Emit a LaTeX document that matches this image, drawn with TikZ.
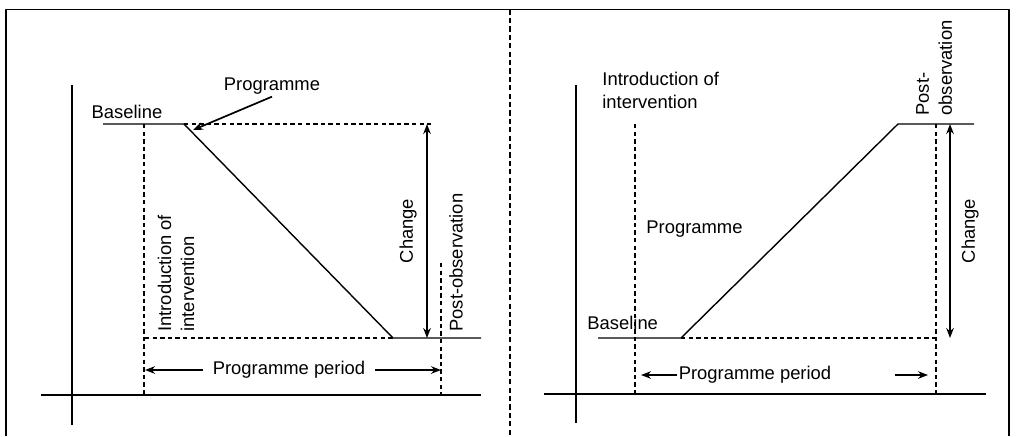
\documentclass[tikz,border=0pt]{standalone}
\usepackage{fontspec}
\setmainfont{Liberation Sans}
\usetikzlibrary{arrows.meta}
\tikzset{
  axisline/.style={line width=.85pt},
  trend/.style={line width=.7pt},
  guide/.style={line width=.7pt, dash pattern=on 2.2pt off 1.6pt},
  divider/.style={line width=.75pt, dash pattern=on 2.6pt off 1.6pt},
  lbl/.style={inner sep=1pt, align=left},
  vlbl/.style={lbl, rotate=90, anchor=west},
}
\begin{document}
\begin{tikzpicture}[x=.5pt,y=-.5pt,>={Stealth[length=5pt,width=3.8pt]}, font=\fontsize{9.2}{11.5}\selectfont, line join=round]
            \useasboundingbox (0,0) rectangle (1016,436);
            % frame and divider
            \coordinate (fbl) at (6,436); \coordinate (ftl) at (6,9.5);
            \coordinate (ftr) at (1009,9.5); \coordinate (fbr) at (1009,436);
            \coordinate (dtop) at (510,9.5); \coordinate (dbot) at (510,436);
            \draw[axisline] (fbl) -- (ftl) -- (ftr) -- (fbr);
            \draw[divider] (dtop) -- (dbot);
            % left panel
            \coordinate (Lyt) at (72,85); \coordinate (Lyb) at (72,425);
            \coordinate (Lxl) at (41,395); \coordinate (Lxr) at (481,395);
            \coordinate (Lb0) at (103,124); \coordinate (Lb1) at (184,124); \coordinate (Ltop) at (431,124);
            \coordinate (Le0) at (393,338); \coordinate (Le1) at (481,338); \coordinate (Ld0) at (145,338);
            \coordinate (Lv0) at (144,124); \coordinate (Lv1) at (144,395);
            \coordinate (Lw0) at (441,263); \coordinate (Lw1) at (441,395);
            \coordinate (Lc0) at (427,124); \coordinate (Lc1) at (427,338);
            \coordinate (Lp0) at (145,370); \coordinate (Lp1) at (441,370);
            \coordinate (Ltip) at (193,130);
            \draw[axisline] (Lyt) -- (Lyb) (Lxl) -- (Lxr);
            \draw[trend] (Lb0) -- (Lb1) -- (Le0) -- (Le1);
            \draw[guide] (Lb1) -- (Ltop) (Ld0) -- (Le0) (Lv0) -- (Lv1) (Lw0) -- (Lw1);
            \draw[<->, trend] (Lc0) -- (Lc1);
            \node[lbl] (Lbase) at (127,112) {Baseline};
            \node[lbl] (Lprog) at (272,86) {Programme};
            \draw[->, axisline] (Lprog.south) -- (Ltip);
            \node[vlbl] (Lintro) at (176,334) {Introduction of\\intervention};
            \node[lbl, rotate=90] (Lchange) at (408,231) {Change};
            \node[vlbl] (Lpost) at (456,334) {Post-observation};
            \node[lbl, inner sep=4.5pt] (Lper) at (289,370) {Programme period};
            \draw[->, trend] (Lper) -- (Lp0);
            \draw[->, trend] (Lper) -- (Lp1);
            % right panel
            \coordinate (Ryt) at (576,85); \coordinate (Ryb) at (576,423);
            \coordinate (Rxl) at (544,394); \coordinate (Rxr) at (986,394);
            \coordinate (Rb0) at (598,338); \coordinate (Rb1) at (681,338);
            \coordinate (Re0) at (898,124); \coordinate (Re1) at (974,124); \coordinate (Rd1) at (936,338);
            \coordinate (Rv0) at (635,124); \coordinate (Rv1) at (635,394);
            \coordinate (Rw0) at (936,124); \coordinate (Rw1) at (936,394);
            \coordinate (Rc0) at (950,124); \coordinate (Rc1) at (950,338);
            \coordinate (Rp0) at (641,375); \coordinate (Rq0) at (895,375); \coordinate (Rq1) at (928,375);
            \draw[axisline] (Ryt) -- (Ryb) (Rxl) -- (Rxr);
            \draw[trend] (Rb0) -- (Rb1) -- (Re0) -- (Re1);
            \draw[guide] (Rb1) -- (Rd1) (Rv0) -- (Rv1) (Rw0) -- (Rw1);
            \draw[<->, trend] (Rc0) -- (Rc1);
            \node[lbl, anchor=west] (Rintro) at (600,90) {Introduction of\\intervention};
            \node[lbl, anchor=west] (Rprog) at (644,229) {Programme};
            \node[lbl, anchor=west] (Rbase) at (585,323) {Baseline};
            \node[vlbl] (Rpost) at (934,118) {Post-\\observation};
            \node[lbl, rotate=90] (Rchange) at (970,231) {Change};
            \node[lbl, inner sep=.5pt] (Rper) at (755,375) {Programme period};
            \draw[->, trend] (Rper) -- (Rp0);
            \draw[->, trend] (Rq0) -- (Rq1);
        \end{tikzpicture}
\end{document}
